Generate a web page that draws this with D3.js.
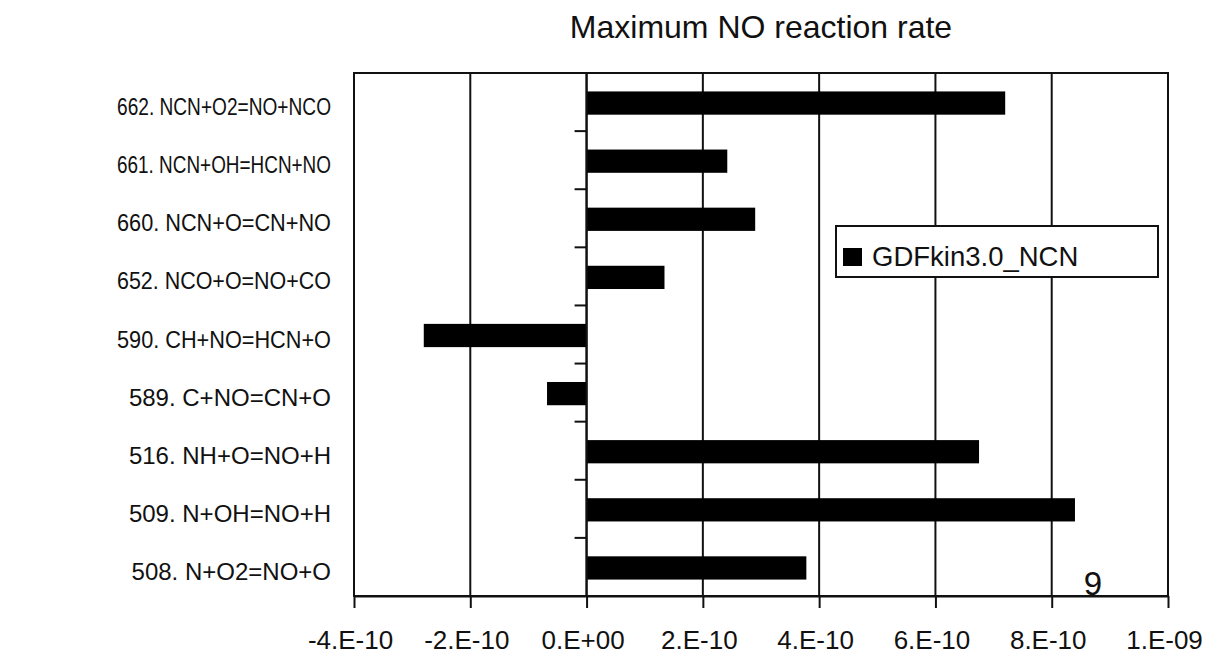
<!DOCTYPE html>
<html>
<head>
<meta charset="utf-8">
<script src="https://cdn.jsdelivr.net/npm/d3@7"></script>
<style>
  body { margin: 0; background: #fff; }
  text { font-family: "Liberation Sans", Arial, sans-serif; fill: #111; }
</style>
</head>
<body>
<svg id="chart" width="1211" height="656"></svg>
<script>
// Reactions, top to bottom, and their maximum NO reaction rates
const reactions = [
  "662. NCN+O2=NO+NCO",
  "661. NCN+OH=HCN+NO",
  "660. NCN+O=CN+NO",
  "652. NCO+O=NO+CO",
  "590. CH+NO=HCN+O",
  "589. C+NO=CN+O",
  "516. NH+O=NO+H",
  "509. N+OH=NO+H",
  "508. N+O2=NO+O"
];
const rates = [7.2e-10, 2.42e-10, 2.9e-10, 1.34e-10, -2.8e-10, -0.68e-10, 6.75e-10, 8.4e-10, 3.78e-10];
const tickValues = [-4e-10, -2e-10, 0, 2e-10, 4e-10, 6e-10, 8e-10, 1e-9];
const tickLabels = ["-4.E-10", "-2.E-10", "0.E+00", "2.E-10", "4.E-10", "6.E-10", "8.E-10", "1.E-09"];
const seriesName = "GDFkin3.0_NCN";
const titleText = "Maximum NO reaction rate";
const pageNumber = "9";

const svg = d3.select("#chart");
const plot = { left: 354, right: 1168, top: 73, bottom: 596 };
const labelColumnWidth = 214;

const x = d3.scaleLinear().domain([-4e-10, 1e-9]).range([plot.left, plot.right]);
const y = d3.scaleBand().domain(reactions).range([plot.top, plot.bottom])
  .paddingInner(0.6).paddingOuter(0.3);

const ink = "#111";

// Title
svg.append("text")
  .attr("x", (plot.left + plot.right) / 2)
  .attr("y", 38)
  .attr("text-anchor", "middle")
  .style("font-size", "32px")
  .text(titleText);

// Vertical gridlines
svg.append("g").selectAll("line").data(tickValues).join("line")
  .attr("x1", d => x(d)).attr("x2", d => x(d))
  .attr("y1", plot.top).attr("y2", plot.bottom)
  .attr("stroke", ink).attr("stroke-width", 2);

// Bars
svg.append("g").selectAll("rect").data(reactions).join("rect")
  .attr("x", (d, i) => Math.min(x(0), x(rates[i])))
  .attr("width", (d, i) => Math.abs(x(rates[i]) - x(0)))
  .attr("y", d => y(d) + 1)
  .attr("height", y.bandwidth())
  .attr("fill", "#000");

// Category axis at zero with ticks on the band boundaries
svg.append("line")
  .attr("x1", x(0)).attr("x2", x(0))
  .attr("y1", plot.top).attr("y2", plot.bottom)
  .attr("stroke", ink).attr("stroke-width", 2);
const step = y.step();
svg.append("g").selectAll("line").data(d3.range(reactions.length + 1)).join("line")
  .attr("x1", x(0) - 12).attr("x2", x(0))
  .attr("y1", i => plot.top + i * step).attr("y2", i => plot.top + i * step)
  .attr("stroke", ink).attr("stroke-width", 2);

// Category labels, squeezed to fit the label column when too long
svg.append("g").selectAll("text").data(reactions).join("text")
  .attr("x", 331)
  .attr("y", d => y(d) + y.bandwidth() / 2 + 13)
  .attr("text-anchor", "end")
  .style("font-size", "24px")
  .text(d => d)
  .each(function () {
    if (this.getComputedTextLength() > labelColumnWidth) {
      d3.select(this)
        .attr("textLength", labelColumnWidth)
        .attr("lengthAdjust", "spacingAndGlyphs");
    }
  });

// Frame
svg.append("rect")
  .attr("x", plot.left).attr("y", plot.top)
  .attr("width", plot.right - plot.left).attr("height", plot.bottom - plot.top)
  .attr("fill", "none").attr("stroke", ink).attr("stroke-width", 2);

// Value axis
const xAxis = d3.axisBottom(x)
  .tickValues(tickValues)
  .tickFormat((d, i) => tickLabels[i])
  .tickSize(12).tickSizeOuter(0).tickPadding(23);
const gx = svg.append("g").attr("transform", `translate(0,${plot.bottom})`).call(xAxis);
gx.select(".domain").attr("stroke", ink).attr("stroke-width", 2);
gx.selectAll(".tick line").attr("stroke", ink).attr("stroke-width", 2);
gx.selectAll(".tick text")
  .attr("dx", -4)
  .style("font-family", "'Liberation Sans', Arial, sans-serif")
  .style("font-size", "26px")
  .attr("fill", ink);

// Legend
const legend = svg.append("g");
legend.append("rect")
  .attr("x", 836).attr("y", 226).attr("width", 322).attr("height", 51)
  .attr("fill", "#fff").attr("stroke", ink).attr("stroke-width", 2);
legend.append("rect")
  .attr("x", 843).attr("y", 248).attr("width", 19).attr("height", 18)
  .attr("fill", "#000");
legend.append("text")
  .attr("x", 872).attr("y", 266)
  .style("font-size", "27.5px")
  .text(seriesName);

// Page number
svg.append("text")
  .attr("x", 1093).attr("y", 595)
  .attr("text-anchor", "middle")
  .style("font-size", "33px")
  .text(pageNumber);
</script>
</body>
</html>
